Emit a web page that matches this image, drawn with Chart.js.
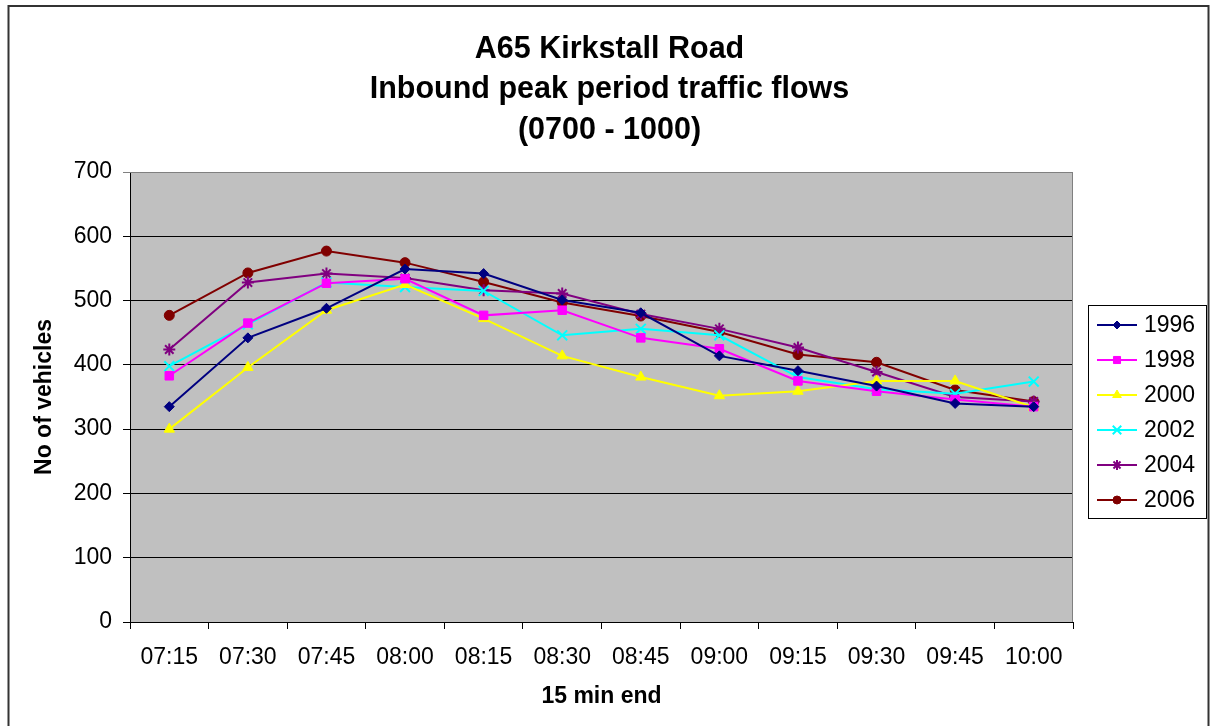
<!DOCTYPE html>
<html>
<head>
<meta charset="utf-8">
<script src="https://cdn.jsdelivr.net/npm/chart.js@4.4.1/dist/chart.umd.min.js"></script>
<style>
  html, body { margin: 0; padding: 0; background: #fff; }
  #wrap { width: 1211px; height: 726px; }
</style>
</head>
<body>
<div id="wrap"><canvas id="chartLine" width="1211" height="726"></canvas></div>
<script>
// data
const timeLabels = ["07:15", "07:30", "07:45", "08:00", "08:15", "08:30", "08:45", "09:00", "09:15", "09:30", "09:45", "10:00"];
const yearLabels = ["1996", "1998", "2000", "2002", "2004", "2006"];
const flows1996 = [335, 442, 488, 549, 542, 501, 481, 414, 391, 367, 340, 335];
const flows1998 = [383, 465, 527, 534, 477, 485, 442, 425, 375, 359, 346, 335];
const flows2000 = [300, 396, 485, 525, 472, 414, 381, 352, 359, 375, 375, 334];
const flows2002 = [398, 463, 528, 521, 515, 446, 456, 446, 381, 362, 355, 374];
const flows2004 = [424, 528, 542, 535, 516, 511, 479, 456, 427, 389, 350, 343];
const flows2006 = [477, 543, 577, 559, 529, 497, 476, 451, 416, 404, 361, 343];
const yTicks = [0, 100, 200, 300, 400, 500, 600, 700];
const titleLines = ["A65 Kirkstall Road", "Inbound peak period traffic flows", "(0700 - 1000)"];

const FONT = '"Liberation Sans", Arial, sans-serif';

const seriesValues = [flows1996, flows1998, flows2000, flows2002, flows2004, flows2006];
const seriesColors = ["#000080", "#FF00FF", "#FFFF00", "#00FFFF", "#800080", "#800000"];
const seriesPoints = ["rectRot", "rect", "triangle", "crossRot", "star", "circle"];
const seriesRadius = [5, 6, 6, 7, 6, 5];

const datasets = yearLabels.map((year, i) => ({
  label: year,
  data: seriesValues[i],
  borderColor: seriesColors[i],
  backgroundColor: seriesColors[i],
  borderWidth: 2,
  pointStyle: seriesPoints[i],
  pointRadius: seriesRadius[i],
  pointBorderWidth: (seriesPoints[i] === "crossRot" || seriesPoints[i] === "star") ? 2 : 1,
  tension: 0
}));

// grey plot area, borders and the boxed legend on the right
const excelLook = {
  id: "excelLook",
  beforeDraw(chart) {
    const ctx = chart.ctx, a = chart.chartArea;
    ctx.save();
    ctx.fillStyle = "#fff";
    ctx.fillRect(0, 0, chart.width, chart.height);
    ctx.fillStyle = "#C0C0C0";
    ctx.fillRect(a.left, a.top, a.right - a.left, a.bottom - a.top);
    ctx.restore();
  },
  beforeDatasetsDraw(chart) {
    const ctx = chart.ctx, a = chart.chartArea;
    ctx.save();
    ctx.strokeStyle = "#808080";
    ctx.lineWidth = 1;
    ctx.beginPath();
    ctx.moveTo(a.left, a.top + 0.5);
    ctx.lineTo(a.right - 0.5, a.top + 0.5);
    ctx.lineTo(a.right - 0.5, a.bottom);
    ctx.stroke();
    ctx.restore();
  },
  afterDraw(chart) {
    const ctx = chart.ctx;
    ctx.save();
    // outer chart border
    ctx.strokeStyle = "#333";
    ctx.lineWidth = 2;
    ctx.strokeRect(8.5, 6, 1200, 740);
    // legend
    ctx.strokeStyle = "#000";
    ctx.lineWidth = 1;
    ctx.strokeRect(1088.5, 305.5, 118, 213);
    chart.data.datasets.forEach((ds, i) => {
      const y = 325 + 35 * i;
      ctx.strokeStyle = ds.borderColor;
      ctx.lineWidth = 2;
      ctx.beginPath();
      ctx.moveTo(1097, y);
      ctx.lineTo(1137, y);
      ctx.stroke();
      ctx.fillStyle = ds.backgroundColor;
      ctx.lineWidth = ds.pointBorderWidth;
      Chart.helpers.drawPoint(ctx, {pointStyle: ds.pointStyle, rotation: 0, radius: ds.pointRadius - 1, borderWidth: ds.pointBorderWidth}, 1117, y);
      ctx.fillStyle = "#000";
      ctx.font = "23px " + FONT;
      ctx.textAlign = "left";
      ctx.textBaseline = "middle";
      ctx.fillText(ds.label, 1144, y + 1);
    });
    ctx.restore();
  }
};

const configLine = {
  type: "line",
  data: { labels: timeLabels, datasets: datasets },
  options: {
    responsive: false,
    animation: false,
    layout: { padding: { left: 8, right: 0, top: 0, bottom: 0 } },
    plugins: {
      legend: { display: false },
      tooltip: { enabled: false },
      title: {
        display: true,
        text: titleLines,
        color: "#000",
        font: { family: FONT, size: 30.5, weight: "bold", lineHeight: 1.328 },
        padding: { top: 29, bottom: 21.5 }
      }
    },
    scales: {
      x: {
        offset: true,
        grid: { offset: true, drawOnChartArea: false, drawTicks: true, tickLength: 7, color: "#000" },
        border: { display: true, color: "#000", width: 1 },
        ticks: { color: "#000", font: { family: FONT, size: 23 }, padding: 15, maxRotation: 0, autoSkip: false },
        title: {
          display: true, text: "15 min end", color: "#000",
          font: { family: FONT, size: 23, weight: "bold" },
          padding: { top: 0, bottom: 16 }
        },
        afterFit(scale) { scale.height = 104; }
      },
      y: {
        min: 0,
        max: 700,
        afterBuildTicks(scale) { scale.ticks = yTicks.map(v => ({ value: v })); },
        grid: {
          color: (c) => (c.tick && c.tick.value === 700 ? "#808080" : "#000"),
          lineWidth: 1, tickLength: 7, drawTicks: true
        },
        border: { display: true, color: "#000", width: 1 },
        ticks: { color: "#000", font: { family: FONT, size: 23 }, padding: 11 },
        title: {
          display: true, text: "No of vehicles", color: "#000",
          font: { family: FONT, size: 23, weight: "bold" },
          padding: { top: 23, bottom: 0 }
        },
        afterFit(scale) { scale.width = 122; }
      },
      // empty axis that only keeps room for the legend on the right
      legendRoom: {
        position: "right",
        display: true,
        grid: { display: false },
        border: { display: false },
        ticks: { display: false },
        afterFit(scale) { scale.width = 138; }
      }
    }
  },
  plugins: [excelLook]
};

var chartLine = new Chart(document.getElementById("chartLine"), configLine);
</script>
</body>
</html>
